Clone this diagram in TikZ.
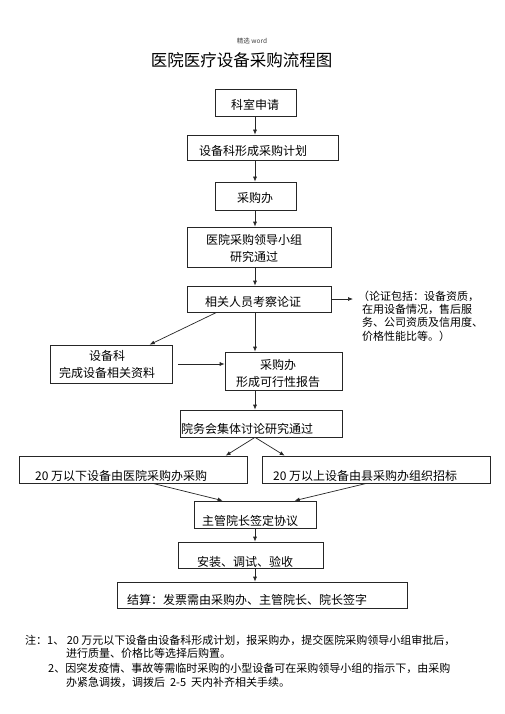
\documentclass[tikz,border=0pt]{standalone}
\usepackage{fontspec}
\setmainfont{Noto Sans CJK SC}
\usetikzlibrary{arrows.meta,calc}
\begin{document}
\begin{tikzpicture}[x=1pt,y=-1pt,
  box/.style={draw=black!85, line width=0.7pt, inner sep=0pt},
  bt/.style={font=\fontsize{12}{17}\selectfont, inner sep=0pt, align=center},
  btl/.style={font=\fontsize{12}{17}\selectfont, inner sep=0pt, anchor=west},
  arr/.style={draw=black!85, line width=0.7pt, -{Latex[length=5pt,width=4pt]}},
  nt/.style={font=\fontsize{11}{13.4}\selectfont, inner sep=0pt, align=left, anchor=north west},
  nl/.style={font=\fontsize{11}{13}\selectfont, inner sep=0pt, anchor=west}]
\fill[white] (0,0) rectangle (505,714);
\useasboundingbox (0,0) rectangle (505,714);
\coordinate (ax) at (255,0);

% header and title
\node[font=\fontsize{6.5}{8}\selectfont, text=black!75, inner sep=0pt] (hdr) at (252,41) {精选 word};
\node[font=\fontsize{16.5}{20}\selectfont, inner sep=0pt] (title) at (241.5,60) {医院医疗设备采购流程图};

% boxes
\node[box, minimum width=81, minimum height=27] (n1) at (255.5,102.5) {};
\node[box, minimum width=151, minimum height=25] (n2) at (262.5,147.5) {};
\node[box, minimum width=81, minimum height=28] (n3) at (255.5,196) {};
\node[box, minimum width=144, minimum height=40] (n4) at (259,247) {};
\node[box, minimum width=144, minimum height=26] (n5) at (259,299) {};
\node[box, minimum width=122, minimum height=38] (n6) at (111,364) {};
\node[box, minimum width=117, minimum height=38] (n7) at (283.5,371) {};
\node[box, minimum width=162, minimum height=27] (n8) at (261,423.5) {};
\node[box, minimum width=228, minimum height=27] (n9) at (133,469.5) {};
\node[box, minimum width=228, minimum height=27] (n10) at (376,469.5) {};
\node[box, minimum width=122, minimum height=27] (n11) at (255,514.5) {};
\node[box, minimum width=145, minimum height=26] (n12) at (250.5,555) {};
\node[box, minimum width=290, minimum height=26] (n13) at (262,595) {};

% box texts
\node[bt] (t1) at (255,104.5) {科室申请};
\node[bt] (t2) at (253,151) {设备科形成采购计划};
\node[bt] (t3) at (255,198) {采购办};
\node[bt] (t4) at (254,248.5) {医院采购领导小组\\研究通过};
\node[bt] (t5) at (253,302) {相关人员考察论证};
\node[bt] (t6) at (107,364.5) {设备科\\完成设备相关资料};
\node[bt] (t7) at (278,373.5) {采购办\\形成可行性报告};
\node[btl] (t8) at (181,429) {院务会集体讨论研究通过};
\node[btl] (t9) at (35,475.5) {20 万以下设备由医院采购办采购};
\node[btl] (t10) at (273,475.5) {20 万以上设备由县采购办组织招标};
\node[btl] (t11) at (202,520.5) {主管院长签定协议};
\node[btl] (t12) at (197,561.5) {安装、调试、验收};
\node[btl] (t13) at (127,600) {结算：发票需由采购办、主管院长、院长签字};

% side note
\node[nt] (note) at (362,290.5) {\hspace*{-4pt}（论证包括：设备资质，\\在用设备情况，售后服\\务、公司资质及信用度、\\价格性能比等。）};
\coordinate (ne) at (353,299);

% connectors
\draw[arr] (n1.south -| ax) -- (n2.north -| ax);
\draw[arr] (n2.south -| ax) -- (n3.north -| ax);
\draw[arr] (n3.south -| ax) -- (n4.north -| ax);
\draw[arr] (n4.south -| ax) -- (n5.north -| ax);
\draw[arr] (n5.east) -- (ne);
\draw[arr] ([xshift=30pt]n5.south west) -- ([xshift=100pt]n6.north west);
\draw[arr] (n5.south -| ax) -- (n7.north -| ax);
\draw[arr] ([xshift=6pt]n6.east) -- (n7.west |- n6.east);
\draw[arr] (n7.south -| ax) -- (n8.north -| ax);
\draw[arr] (n8.south -| ax) -- ([xshift=207pt]n9.north west);
\draw[arr] (n8.south -| ax) -- ([xshift=23pt]n10.north west);
\draw[arr] ([xshift=134pt]n9.south west) -- ([xshift=29pt]n11.north west);
\draw[arr] ([xshift=105pt]n10.south west) -- ([xshift=101pt]n11.north west);
\draw[arr] (n11.south -| ax) -- (n12.north -| ax);
\draw[arr] (n12.south -| ax) -- (n13.north -| ax);

% footnotes
\node[nl] (f1) at (25,640) {注：1、 20 万元以下设备由设备科形成计划，报采购办，提交医院采购领导小组审批后，};
\node[nl] (f2) at (66,653.5) {进行质量、价格比等选择后购置。};
\node[nl] (f3) at (48,668) {2、因突发疫情、事故等需临时采购的小型设备可在采购领导小组的指示下，由采购};
\node[nl] (f4) at (66,682) {办紧急调拨，调拨后 \ 2-5 \ 天内补齐相关手续。};
\end{tikzpicture}
\end{document}
